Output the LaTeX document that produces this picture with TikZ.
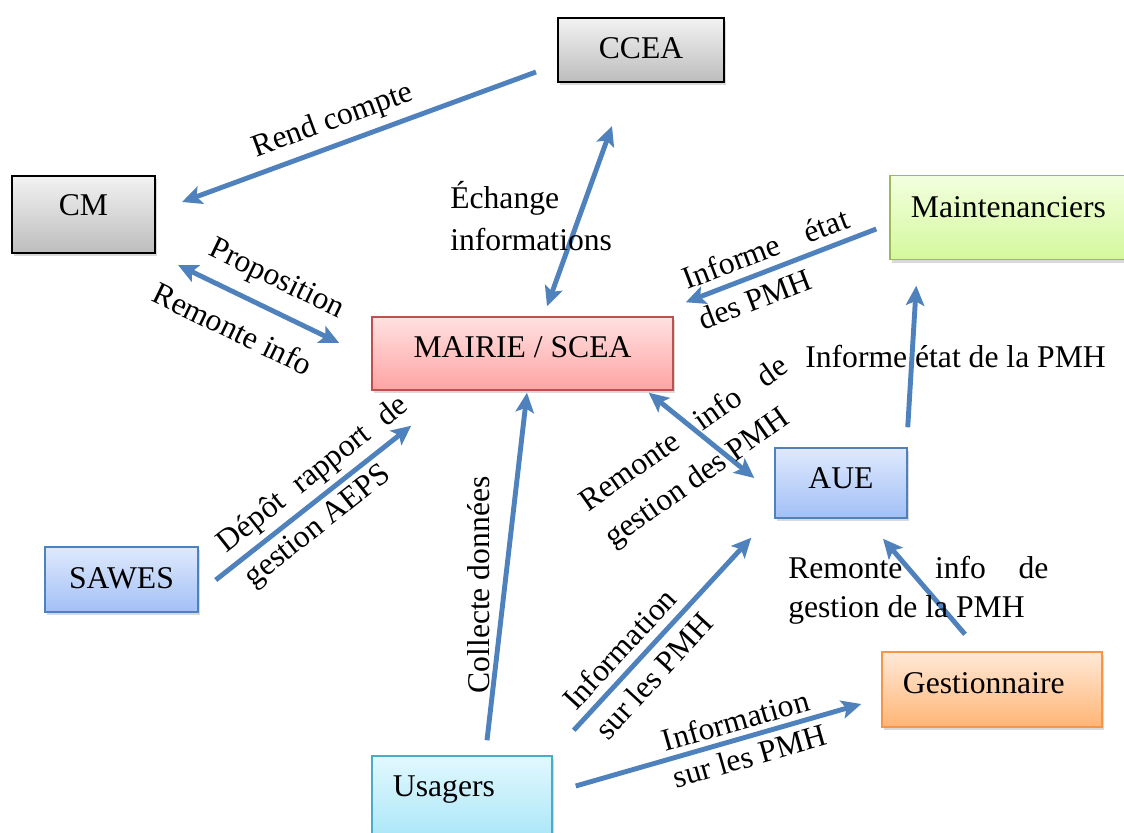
\documentclass[tikz,border=0pt]{standalone}
\usepackage{fontspec}
\setmainfont{Liberation Serif}
\usepackage{xcolor}
\usetikzlibrary{arrows.meta, shadows}

% couleurs
\definecolor{flowblue}{HTML}{4F81BD}
\definecolor{grayhi}{HTML}{F2F2F2}
\definecolor{graylo}{HTML}{BDBDBD}
\definecolor{redhi}{HTML}{FFE1E1}
\definecolor{redlo}{HTML}{FFA3A3}
\definecolor{redbd}{HTML}{C0504D}
\definecolor{greenhi}{HTML}{F2FFDF}
\definecolor{greenlo}{HTML}{D4F89C}
\definecolor{greenbd}{HTML}{9BBB59}
\definecolor{bluehi}{HTML}{DFE9FD}
\definecolor{bluelo}{HTML}{A2C0F6}
\definecolor{orangehi}{HTML}{FFE9D8}
\definecolor{orangelo}{HTML}{FFB575}
\definecolor{orangebd}{HTML}{F79646}
\definecolor{cyanhi}{HTML}{E2F8FE}
\definecolor{cyanlo}{HTML}{A5E5F7}
\definecolor{cyanbd}{HTML}{4BACC6}

\tikzstyle{box} = [draw, rectangle, inner ysep=2pt, text height=0.66em+8pt, text depth=0pt,
    drop shadow={shadow xshift=1.2pt, shadow yshift=-2.2pt, opacity=0.3}]
\tikzstyle{leftbox} = [box, align=left, inner xsep=0.525cm]
\tikzstyle{graybox} = [box, line width=1.4pt, draw=black, top color=grayhi, bottom color=graylo]
\tikzstyle{flow} = [draw=flowblue, line width=3.5pt]
\tikzstyle{lbl} = [inner sep=0pt]

\begin{document}
\begin{tikzpicture}[x=0.025cm, y=-0.025cm, >={Stealth[length=14pt, width=13pt, inset=3pt]},
    font=\fontsize{22.5}{31}\selectfont]
    % cadre
    \useasboundingbox (0,0) rectangle (1124,833);

    % acteurs
    \node [graybox, minimum width=4.15cm, minimum height=1.6cm, text depth=3pt] (ccea) at (641,50) {CCEA};
    \node [graybox, minimum width=3.575cm, minimum height=1.925cm, text depth=12.8pt] (cm) at (83.5,214.5) {CM};
    \node [box, line width=1pt, draw=redbd, top color=redhi, bottom color=redlo,
        minimum width=7.525cm, minimum height=1.825cm, text depth=8.5pt] (mairie) at (522.5,353.5) {MAIRIE / SCEA};
    \node [leftbox, line width=1pt, draw=greenbd, top color=greenhi, bottom color=greenlo, text width=4.95cm,
        minimum width=6cm, minimum height=2.1cm, text depth=15pt] (maint) at (1010,217.5) {Maintenanciers};
    \node [box, line width=1pt, draw=flowblue, top color=bluehi, bottom color=bluelo,
        minimum width=3.825cm, minimum height=1.625cm, text depth=1.4pt] (sawes) at (121.5,579.5) {SAWES};
    \node [box, line width=1pt, draw=flowblue, top color=bluehi, bottom color=bluelo,
        minimum width=3.3cm, minimum height=1.75cm, text depth=6.4pt] (aue) at (841,483) {AUE};
    \node [leftbox, line width=1pt, draw=orangebd, top color=orangehi, bottom color=orangelo, text width=4.45cm,
        minimum width=5.5cm, minimum height=1.875cm, text depth=8.5pt] (gest) at (992,689.5) {Gestionnaire};
    \node [leftbox, line width=1pt, draw=cyanbd, top color=cyanhi, bottom color=cyanlo, text width=3.45cm,
        minimum width=4.5cm, minimum height=2.25cm, text depth=20.6pt] (usagers) at (462,801) {Usagers};

    % liaisons
    \draw [flow, ->] ([shift={(-21,22)}]ccea.west) -- node [sloped, above, inner sep=5pt, pos=0.55] (rend) {Rend compte}
        ([shift={(26,-12.5)}]cm.east);
    \draw [flow, <->] ([shift={(22,11)}]cm.south east)
        -- node [sloped, above, inner sep=9pt, pos=0.53] (propo) {Proposition}
           node [sloped, below, inner sep=14pt, pos=0.43] (remcm) {Remonte info}
        ([shift={(-32,-10.5)}]mairie.west);
    \draw [flow, <->] ([shift={(-29,43)}]ccea.south) -- ([shift={(24.5,-10)}]mairie.north);
    \node [lbl, anchor=north west, align=left, font=\fontsize{22.5}{30}\selectfont] (echange) at (450,181) {Échange\\informations};

    \draw [flow, ->] ([shift={(-13,11.5)}]maint.west)
        -- node [lbl, sloped, pos=0.54, text width=4.375cm, align=justify] (infmaint) {Informe état\linebreak des PMH}
        ([shift={(12,-14)}]mairie.north east);
    \draw [flow, ->] ([shift={(0,-20)}]aue.north east) -- ([shift={(27,25.5)}]maint.south west);
    \node [lbl, anchor=base west] (infaue) at (805,367) {Informe état de la PMH};

    \draw [flow, <->] ([shift={(-25,2)}]mairie.south east) -- ([shift={(-20,-5)}]aue.west);
    \node [lbl, rotate=35, text width=6.15cm, align=justify] (remaue) at (697,453) {Remonte info de\linebreak gestion des PMH};

    \draw [flow, ->] ([shift={(17,0.5)}]sawes.east)
        -- node [lbl, sloped, pos=0.57, text width=5.83cm, align=justify] (depot) {Dépôt rapport de\linebreak gestion AEPS}
        ([shift={(40,35)}]mairie.south west);

    \draw [flow, ->] ([shift={(25,-15)}]usagers.north)
        -- node [pos=0.447, rotate=90, anchor=south, inner sep=9pt] (collecte) {Collecte données}
        ([shift={(4.5,2)}]mairie.south);
    \draw [flow, ->] ([shift={(21,-25)}]usagers.north east)
        -- node [lbl, sloped, pos=0.36, align=left] (infusa) {Information\\sur les PMH}
        ([shift={(-23,19)}]aue.south west);
    \draw [flow, ->] ([shift={(23,-15)}]usagers.east)
        -- node [lbl, sloped, pos=0.59, align=left, font=\fontsize{22.5}{27}\selectfont] (infgest) {Information\\sur les PMH}
        ([shift={(-20,14.5)}]gest.west);

    \draw [flow, ->] ([shift={(-27,-17)}]gest.north) -- ([shift={(42,20)}]aue.south);
    \node [lbl, anchor=north west, text width=6.5cm, align=justify, font=\fontsize{22.5}{28}\selectfont] (remgest)
        at (788,556) {Remonte info de\linebreak gestion de la PMH};
\end{tikzpicture}
\end{document}
